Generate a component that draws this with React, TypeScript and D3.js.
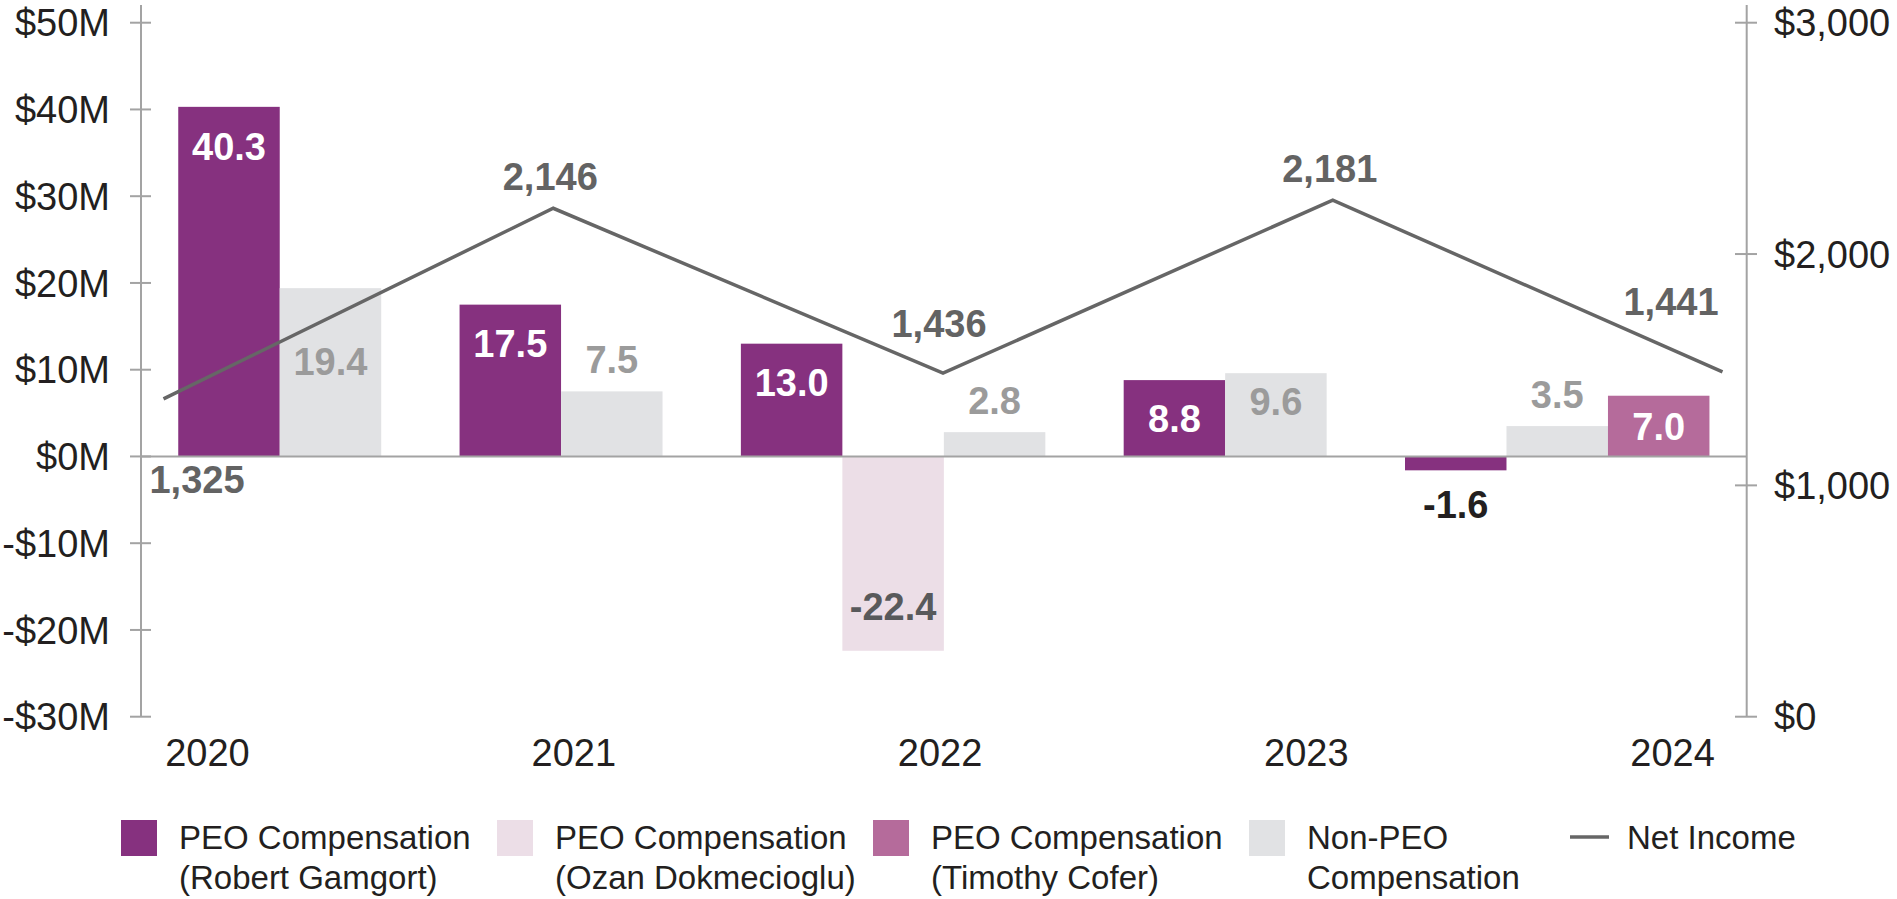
import React from "react";
import * as d3 from "d3";

const categories = ["2020", "2021", "2022", "2023", "2024"];
const gamgort: (number | null)[] = [40.3, 17.5, 13.0, 8.8, -1.6];
const dokmecioglu: (number | null)[] = [null, null, -22.4, null, null];
const cofer: (number | null)[] = [null, null, null, null, 7.0];
const nonPeo: (number | null)[] = [19.4, 7.5, 2.8, 9.6, 3.5];
const netIncome = [1325, 2146, 1436, 2181, 1441];
const leftTicks = [50, 40, 30, 20, 10, 0, -10, -20, -30];
const rightTicks = [0, 1000, 2000, 3000];

const W = 1897;
const H = 899;
const FONT = "'Liberation Sans', Arial, Helvetica, sans-serif";
const xLeft = 141;
const xRight = 1746.7;

type Series = { key: string; line1: string; line2: string; values: (number | null)[]; color: string };
const sGamgort: Series = { key: "gamgort", line1: "PEO Compensation", line2: "(Robert Gamgort)", values: gamgort, color: "#86317f" };
const sDok: Series = { key: "dok", line1: "PEO Compensation", line2: "(Ozan Dokmecioglu)", values: dokmecioglu, color: "#ecdee7" };
const sCofer: Series = { key: "cofer", line1: "PEO Compensation", line2: "(Timothy Cofer)", values: cofer, color: "#b56b9b" };
const sNon: Series = { key: "nonPeo", line1: "Non-PEO", line2: "Compensation", values: nonPeo, color: "#e1e2e4" };
const groupOrder = [sGamgort, sDok, sNon, sCofer];
const legendOrder = [sGamgort, sDok, sCofer, sNon];

export default function App() {
  const yLeft = d3.scaleLinear().domain([-30, 50]).range([716.7, 22.7]);
  const yRight = d3.scaleLinear().domain([0, 3000]).range([716.7, 22.7]);
  const yLine = d3.scaleLinear().domain([0, 3000]).range([706.5, 10]);
  const xLine = d3.scalePoint<string>().domain(categories).range([163.5, 1722.5]);
  const xYear = d3.scalePoint<string>().domain(categories).range([207.5, 1672.6]);

  const GAP = 0.772;
  const PAD = 0.367;
  let cursor = 0;
  const bars: { cat: string; i: number; s: Series; v: number; u: number }[] = [];
  categories.forEach((c, i) => {
    groupOrder.forEach((s) => {
      const v = s.values[i];
      if (v == null) return;
      bars.push({ cat: c, i, s, v, u: cursor });
      cursor += 1;
    });
    if (i < categories.length - 1) cursor += GAP;
  });
  const xUnit = d3.scaleLinear().domain([-PAD, cursor + PAD]).range([xLeft, xRight]);

  const pts: [number, number][] = categories.map((c, i) => [xLine(c)!, yLine(netIncome[i])]);
  const lineGen = d3.line<[number, number]>().x((d) => d[0]).y((d) => d[1]);
  const lineYAt = d3.scaleLinear().domain(pts.map((p) => p[0])).range(pts.map((p) => p[1]));
  const zeroY = yLeft(0);

  const FS = 38;
  const half = FS * 0.36;

  const barLabels = bars.map((b) => {
    const x0 = xUnit(b.u);
    const x1 = xUnit(b.u + 1);
    const cx = (x0 + x1) / 2;
    const yv = yLeft(b.v);
    const top = Math.min(yv, zeroY);
    const bottom = Math.max(yv, zeroY);
    let baseline = 0;
    let fill = "#ffffff";
    const text = b.v.toFixed(1);
    if (b.s.key === "gamgort" || b.s.key === "cofer") {
      if (b.v >= 0) {
        const c = Math.min(top + 39, (top + bottom) / 2);
        baseline = c + half;
      } else {
        baseline = bottom + 48;
        fill = "#231f20";
      }
    } else if (b.s.key === "dok") {
      baseline = bottom - 31;
      fill = "#58595b";
    } else {
      fill = "#9b9b9b";
      if (b.v >= 9) {
        let c = top + 28;
        const ly = lineYAt(cx);
        if (Math.abs(c - ly) < half + 10) c = ly + 44;
        baseline = c + half;
      } else {
        baseline = top - 18;
      }
    }
    return { key: b.s.key + b.cat, cx, baseline, fill, text };
  });

  const lineLabels = pts.map((p, i) => {
    const n = pts.length;
    let x = p[0];
    let y = p[1];
    if (i === 0) {
      x = p[0] + 33.5;
      y = zeroY + 37;
    } else if (i === n - 1) {
      x = p[0] - 51.5;
      y = p[1] - 57;
    } else if (p[1] < pts[i - 1][1] && p[1] < pts[i + 1][1]) {
      x = p[0] - 3;
      y = p[1] - 18;
    } else {
      x = p[0] - 4;
      y = p[1] - 36;
    }
    return { x, y, text: d3.format(",")(netIncome[i]) };
  });

  const axisColor = "#a3a3a3";
  const legendY = 820;
  const legendX0 = 121;
  const legendStep = 376;

  return (
    <svg width={W} height={H} style={{ position: "absolute", left: 0, top: 0, background: "#fff" }} fontFamily={FONT}>
      <rect x={0} y={0} width={W} height={H} fill="#ffffff" />
      {/* bars */}
      {bars.map((b) => {
        const x0 = xUnit(b.u);
        const x1 = xUnit(b.u + 1);
        const y0 = yLeft(Math.max(0, b.v));
        const y1 = yLeft(Math.min(0, b.v));
        return <rect key={b.s.key + b.cat} x={x0} y={y0} width={x1 - x0} height={y1 - y0} fill={b.s.color} />;
      })}
      {/* zero line */}
      <line x1={xLeft} x2={xRight} y1={zeroY} y2={zeroY} stroke={axisColor} strokeWidth={2} />
      {/* left axis */}
      <line x1={xLeft} x2={xLeft} y1={5} y2={yLeft(-30)} stroke={axisColor} strokeWidth={2} />
      {leftTicks.map((t) => (
        <g key={"l" + t}>
          <line x1={130} x2={151} y1={yLeft(t)} y2={yLeft(t)} stroke={axisColor} strokeWidth={2} />
          <text x={110} y={yLeft(t) + half} textAnchor="end" fontSize={FS} fill="#231f20">
            {(t < 0 ? "-$" : "$") + Math.abs(t) + "M"}
          </text>
        </g>
      ))}
      {/* right axis */}
      <line x1={xRight} x2={xRight} y1={5} y2={yRight(0)} stroke={axisColor} strokeWidth={2} />
      {rightTicks.map((t) => (
        <g key={"r" + t}>
          <line x1={1735} x2={1757} y1={yRight(t)} y2={yRight(t)} stroke={axisColor} strokeWidth={2} />
          <text x={1774} y={yRight(t) + half} textAnchor="start" fontSize={FS} fill="#231f20">
            {"$" + d3.format(",")(t)}
          </text>
        </g>
      ))}
      {/* year labels */}
      {categories.map((c) => (
        <text key={"y" + c} x={xYear(c)} y={766} textAnchor="middle" fontSize={FS} fill="#231f20">
          {c}
        </text>
      ))}
      {/* net income line */}
      <path d={lineGen(pts) || ""} fill="none" stroke="#666666" strokeWidth={3.5} strokeLinejoin="miter" />
      {/* bar labels */}
      {barLabels.map((l) => (
        <text key={"bl" + l.key} x={l.cx} y={l.baseline} textAnchor="middle" fontSize={FS} fontWeight="bold" fill={l.fill}>
          {l.text}
        </text>
      ))}
      {/* line labels */}
      {lineLabels.map((l, i) => (
        <text key={"ll" + i} x={l.x} y={l.y} textAnchor="middle" fontSize={FS} fontWeight="bold" fill="#636363">
          {l.text}
        </text>
      ))}
      {/* legend */}
      {legendOrder.map((s, i) => {
        const x = legendX0 + i * legendStep;
        return (
          <g key={"lg" + s.key}>
            <rect x={x} y={legendY} width={36} height={36} fill={s.color} />
            <text x={x + 58} y={legendY + 29} fontSize={33} fill="#231f20">
              {s.line1}
            </text>
            <text x={x + 58} y={legendY + 69} fontSize={33} fill="#231f20">
              {s.line2}
            </text>
          </g>
        );
      })}
      <g>
        <line x1={1570} x2={1609} y1={legendY + 17} y2={legendY + 17} stroke="#666666" strokeWidth={3.5} />
        <text x={1627} y={legendY + 29} fontSize={33} fill="#231f20">
          Net Income
        </text>
      </g>
    </svg>
  );
}
